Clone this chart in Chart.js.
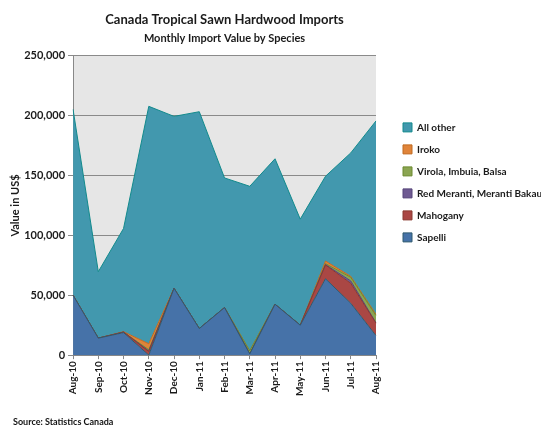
<!DOCTYPE html>
<html>
<head>
<meta charset="utf-8">
<script src="https://cdn.jsdelivr.net/npm/chart.js@4"></script>
<style>
  html, body { margin: 0; padding: 0; background: #fff; }
  #wrap { position: relative; width: 546px; height: 427px; }
  #source {
    position: absolute; left: 13px; top: 416px;
    font: bold 9px Lato, sans-serif; color: #111;
  }
</style>
</head>
<body>
<div id="wrap">
  <canvas id="chart" width="546" height="427"></canvas>
  <div id="source">Source: Statistics Canada</div>
</div>
<script>
const months = ['Aug-10', 'Sep-10', 'Oct-10', 'Nov-10', 'Dec-10', 'Jan-11', 'Feb-11',
  'Mar-11', 'Apr-11', 'May-11', 'Jun-11', 'Jul-11', 'Aug-11']

// stacked from the bottom up
const sapelli = [50000, 14200, 18800, 0, 55800, 22200, 39700, 1000, 42500, 25000, 63800, 43300, 16300]
const mahogany = [0, 0, 500, 3000, 0, 0, 0, 0, 0, 0, 11500, 16700, 10400]
const redMeranti = [0, 0, 0, 500, 0, 0, 0, 0, 0, 0, 300, 2000, 300]
const virola = [0, 0, 0, 1000, 0, 0, 0, 2500, 0, 0, 800, 3000, 6000]
const iroko = [0, 0, 300, 5000, 0, 0, 0, 0, 0, 0, 2200, 800, 1000]
const allOther = [155300, 55500, 86200, 198300, 143600, 181100, 108300, 137500, 121500, 88600, 70800, 103100, 161600]

const font = 'Lato, sans-serif'

function area(label, data, fill, line, fillTo) {
  return {
    label: label,
    data: data,
    backgroundColor: fill,
    borderColor: line,
    borderWidth: 1,
    fill: fillTo,
    pointRadius: 0,
    tension: 0,
  }
}

// grey plot background like the original
const plotBg = {
  id: 'plotBg',
  beforeDraw(chart) {
    const a = chart.chartArea
    const ctx = chart.ctx
    ctx.save()
    ctx.fillStyle = '#e6e6e6'
    ctx.fillRect(a.left, a.top, a.right - a.left, a.bottom - a.top)
    ctx.restore()
  },
}

// leave a wider gap between the plot and the legend
const legendGap = {
  id: 'legendGap',
  afterLayout(chart) {
    const lg = chart.legend
    lg.left += 15
    lg.right += 15
  },
}

new Chart(document.getElementById('chart'), {
  type: 'line',
  data: {
    labels: months,
    datasets: [
      area('Sapelli', sapelli, '#4672a8', '#2f5a6e', 'origin'),
      area('Mahogany', mahogany, '#aa4744', '#8a3a30', '-1'),
      area('Red Meranti, Meranti Bakau', redMeranti, '#6f5a92', '#56457a', '-1'),
      area('Virola, Imbuia, Balsa', virola, '#8ba552', '#6d8a30', '-1'),
      area('Iroko', iroko, '#e0843a', '#c06a20', '-1'),
      area('All other', allOther, '#4298ae', '#128a8c', '-1'),
    ],
  },
  options: {
    responsive: false,
    animation: false,
    layout: { padding: { left: 7, right: 20, top: 6, bottom: 29 } },
    plugins: {
      title: {
        display: true,
        fullSize: false,
        text: 'Canada Tropical Sawn Hardwood Imports',
        color: '#1a1a1a',
        font: { family: font, size: 13, weight: 'bold' },
        padding: { top: 6, bottom: 2 },
      },
      subtitle: {
        display: true,
        fullSize: false,
        text: 'Monthly Import Value by Species',
        color: '#1a1a1a',
        font: { family: font, size: 11, weight: 'bold' },
        padding: { top: 2, bottom: 11 },
      },
      legend: {
        position: 'right',
        align: 'start',
        reverse: true,
        maxWidth: 150,
        title: { display: true, text: '', padding: { top: 90, bottom: 0 } },
        labels: {
          color: '#1a1a1a',
          font: { family: font, size: 10, weight: 'bold' },
          boxWidth: 9,
          boxHeight: 9,
          padding: 12,
        },
      },
      tooltip: { enabled: false },
    },
    scales: {
      x: {
        offset: false,
        grid: { drawOnChartArea: false, drawTicks: true, tickLength: 4, color: '#888' },
        border: { color: '#888' },
        ticks: {
          minRotation: 90,
          maxRotation: 90,
          autoSkip: false,
          color: '#1a1a1a',
          font: { family: font, size: 10, weight: 'bold' },
          padding: 2,
        },
      },
      y: {
        stacked: true,
        min: 0,
        max: 250000,
        grid: { color: '#8a8a8a', tickLength: 5 },
        border: { color: '#888' },
        title: {
          display: true,
          text: 'Value in US$',
          color: '#1a1a1a',
          font: { family: font, size: 11, weight: 'bold' },
          padding: { top: 2, bottom: -1 },
        },
        ticks: {
          stepSize: 50000,
          color: '#1a1a1a',
          font: { family: font, size: 11, weight: 'bold' },
          padding: 3,
          callback: (v) => v.toLocaleString('en-US'),
        },
      },
    },
  },
  plugins: [plotBg, legendGap],
})
</script>
</body>
</html>
